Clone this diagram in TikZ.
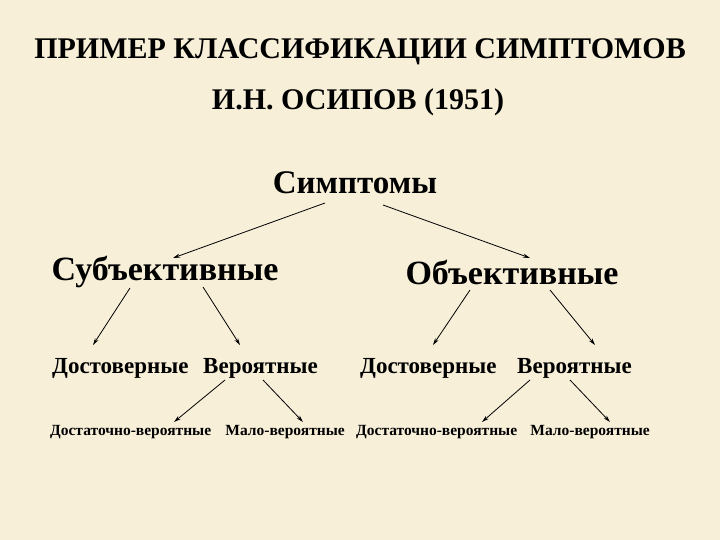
\documentclass[tikz,border=0pt]{standalone}
\usepackage{fontspec}
\setmainfont{Liberation Serif}[BoldFont={Liberation Serif Bold}]
\usetikzlibrary{arrows.meta}
\definecolor{bg}{HTML}{F7EFD8}
\begin{document}
\begin{tikzpicture}[x=1pt,y=-1pt,
  lbl/.style={inner sep=0pt},
  arr/.style={-{Stealth[length=7pt,width=4pt]},line width=0.8pt}]
\fill[bg] (0,0) rectangle (720,540);
\useasboundingbox (0,0) rectangle (720,540);
\node[lbl,font=\rmfamily\bfseries\fontsize{30}{33}\selectfont] (t1) at (360,52) {ПРИМЕР КЛАССИФИКАЦИИ СИМПТОМОВ};
\node[lbl,font=\rmfamily\bfseries\fontsize{30}{33}\selectfont] (t2) at (358,102) {И.Н. ОСИПОВ (1951)};
\node[lbl,font=\rmfamily\bfseries\fontsize{33}{36}\selectfont] (s) at (355,183) {Симптомы};
\node[lbl,font=\rmfamily\bfseries\fontsize{34}{37}\selectfont] (sub) at (165,272) {Субъективные};
\node[lbl,font=\rmfamily\bfseries\fontsize{34}{37}\selectfont] (ob) at (512,272) {Объективные};
\node[lbl,font=\rmfamily\bfseries\fontsize{23}{26}\selectfont,anchor=west] (d1) at (52,368) {Достоверные};
\node[lbl,font=\rmfamily\bfseries\fontsize{23}{26}\selectfont,anchor=east] (v1) at (318,368) {Вероятные};
\node[lbl,font=\rmfamily\bfseries\fontsize{23}{26}\selectfont,anchor=west] (d2) at (360,368) {Достоверные};
\node[lbl,font=\rmfamily\bfseries\fontsize{23}{26}\selectfont,anchor=east] (v2) at (632,368) {Вероятные};
\node[lbl,font=\rmfamily\bfseries\fontsize{15.5}{18}\selectfont,anchor=west] (dv1) at (50,432) {Достаточно-вероятные};
\node[lbl,font=\rmfamily\bfseries\fontsize{15.5}{18}\selectfont,anchor=east] (mv1) at (345,432) {Мало-вероятные};
\node[lbl,font=\rmfamily\bfseries\fontsize{15.5}{18}\selectfont,anchor=west] (dv2) at (356,432) {Достаточно-вероятные};
\node[lbl,font=\rmfamily\bfseries\fontsize{15.5}{18}\selectfont,anchor=east] (mv2) at (650,432) {Мало-вероятные};
\coordinate (a1) at (325,203); \coordinate (b1) at (173,258);
\coordinate (a2) at (383,205); \coordinate (b2) at (530,258);
\coordinate (a3) at (130,288); \coordinate (b3) at (93,345);
\coordinate (a4) at (203,287); \coordinate (b4) at (240,345);
\coordinate (a5) at (470,290); \coordinate (b5) at (433,345);
\coordinate (a6) at (550,290); \coordinate (b6) at (595,345);
\coordinate (a7) at (225,380); \coordinate (b7) at (174,422);
\coordinate (a8) at (263,380); \coordinate (b8) at (303,422);
\coordinate (a9) at (530,380); \coordinate (b9) at (482,422);
\coordinate (a10) at (570,380); \coordinate (b10) at (610,422);
\foreach \i in {1,...,10} \draw[arr] (a\i) -- (b\i);
\end{tikzpicture}
\end{document}
